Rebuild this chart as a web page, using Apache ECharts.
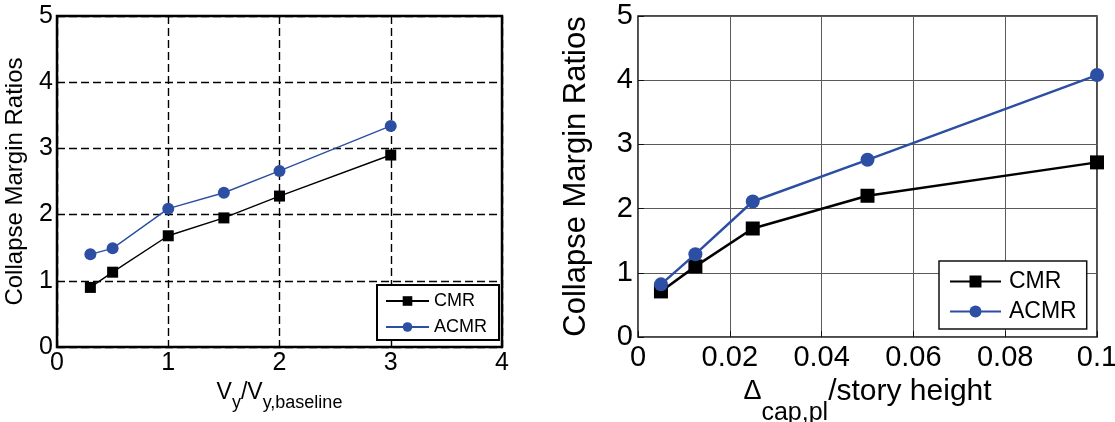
<!DOCTYPE html>
<html>
<head>
<meta charset="utf-8">
<script src="https://cdn.jsdelivr.net/npm/echarts@6/dist/echarts.min.js"></script>
<style>
  html, body { margin: 0; padding: 0; background: #fff; }
  #chart { width: 1115px; height: 422px; }
</style>
</head>
<body>
<div id="chart"></div>
<script>
// Left panel: collapse margin ratios vs. normalized yield strength
const strengthRatio = [0.3, 0.5, 1, 1.5, 2, 3];
const strengthCMR   = [0.9, 1.13, 1.68, 1.95, 2.28, 2.9];
const strengthACMR  = [1.4, 1.49, 2.09, 2.33, 2.66, 3.34];

// Right panel: collapse margin ratios vs. plastic rotation capacity
const capacityRatio = [0.005, 0.0125, 0.025, 0.05, 0.1];
const capacityCMR   = [0.71, 1.1, 1.69, 2.2, 2.72];
const capacityACMR  = [0.82, 1.29, 2.11, 2.76, 4.08];

const seriesNames = ['CMR', 'ACMR'];
const yTicks = [0, 1, 2, 3, 4, 5];

const FONT = "'Liberation Sans', Arial, Helvetica, sans-serif";
const BLACK = '#000000';
const BLUE = '#2c4fa3';

const pairs = (xs, ys) => xs.map((x, i) => [x, ys[i]]);

const chart = echarts.init(document.getElementById('chart'), null, { renderer: 'canvas' });

// Subscripts: main glyphs get bottom padding, subscript glyphs get top padding,
// which pushes the subscript below the main baseline.
const option = {
  backgroundColor: '#ffffff',
  animation: false,
  textStyle: { fontFamily: FONT, color: BLACK },
  grid: [
    { left: 57, right: 613, top: 16, bottom: 75, show: true, borderColor: BLACK, borderWidth: 2.5,
      backgroundColor: 'transparent', containLabel: false, outerBoundsMode: 'none' },
    { left: 638, right: 18, top: 16, bottom: 85, show: true, borderColor: '#111', borderWidth: 1.5,
      backgroundColor: 'transparent', containLabel: false, outerBoundsMode: 'none' }
  ],
  xAxis: [
    {
      gridIndex: 0, type: 'value', min: 0, max: 4, interval: 1,
      axisLine: { show: false },
      axisTick: { show: true, inside: true, length: 5, lineStyle: { color: BLACK } },
      axisLabel: { fontFamily: FONT, fontSize: 25, color: BLACK, margin: 4 },
      splitLine: { show: true, lineStyle: { color: BLACK, width: 1.4, type: [8, 4] } },
      name: '{m|V}{s|y}{m|/V}{s|y,baseline}',
      nameLocation: 'middle', nameGap: 30,
      nameTextStyle: {
        rich: {
          m: { fontFamily: FONT, fontSize: 23, color: BLACK, lineHeight: 23, padding: [0, 0, 11, 0] },
          s: { fontFamily: FONT, fontSize: 18, color: BLACK, lineHeight: 18, padding: [11, 0, 0, 0] }
        }
      }
    },
    {
      gridIndex: 1, type: 'value', min: 0, max: 0.1, interval: 0.02,
      axisLine: { show: false },
      axisTick: { show: true, inside: true, length: 6, lineStyle: { color: '#111' } },
      axisLabel: { fontFamily: FONT, fontSize: 29, color: BLACK, margin: 6 },
      splitLine: { show: true, lineStyle: { color: '#5a5a5a', width: 1 } },
      name: '{d|\u0394}{s|cap,pl}{m|/story height}',
      nameLocation: 'middle', nameGap: 32,
      nameTextStyle: {
        rich: {
          d: { fontFamily: FONT, fontSize: 27, color: BLACK, lineHeight: 30, padding: [0, 0, 21, 0] },
          m: { fontFamily: FONT, fontSize: 30, color: BLACK, lineHeight: 30, padding: [0, 0, 21, 0] },
          s: { fontFamily: FONT, fontSize: 25, color: BLACK, lineHeight: 25, padding: [21, 0, 0, 0] }
        }
      }
    }
  ],
  yAxis: [
    {
      gridIndex: 0, type: 'value', min: yTicks[0], max: yTicks[yTicks.length - 1], interval: 1,
      axisLine: { show: false },
      axisTick: { show: true, inside: true, length: 5, lineStyle: { color: BLACK } },
      axisLabel: { fontFamily: FONT, fontSize: 25, color: BLACK, margin: 4 },
      splitLine: { show: true, lineStyle: { color: BLACK, width: 1.4, type: [8, 4] } },
      name: 'Collapse Margin Ratios',
      nameLocation: 'middle', nameGap: 30, nameRotate: 90,
      nameTextStyle: { fontFamily: FONT, fontSize: 24, color: BLACK }
    },
    {
      gridIndex: 1, type: 'value', min: yTicks[0], max: yTicks[yTicks.length - 1], interval: 1,
      axisLine: { show: false },
      axisTick: { show: true, inside: true, length: 6, lineStyle: { color: '#111' } },
      axisLabel: { fontFamily: FONT, fontSize: 29, color: BLACK, margin: 5 },
      splitLine: { show: true, lineStyle: { color: '#5a5a5a', width: 1 } },
      name: 'Collapse Margin Ratios',
      nameLocation: 'middle', nameGap: 46, nameRotate: 90,
      nameTextStyle: { fontFamily: FONT, fontSize: 31, color: BLACK }
    }
  ],
  legend: [
    {
      data: seriesNames.map(n => ({ name: n })),
      orient: 'vertical', left: 377, top: 285,
      backgroundColor: '#fff', borderColor: BLACK, borderWidth: 2, borderRadius: 0,
      padding: [7, 12, 4, 8], itemWidth: 43, itemHeight: 12, itemGap: 8,
      textStyle: { fontFamily: FONT, fontSize: 18, color: BLACK },
      selectedMode: false,
      formatter: n => n
    },
    {
      data: seriesNames.map(n => ({ name: n + ' ' })),
      orient: 'vertical', left: 939, top: 261,
      backgroundColor: '#fff', borderColor: '#111', borderWidth: 1.5, borderRadius: 0,
      padding: [9, 10, 6, 10], itemWidth: 51, itemHeight: 15, itemGap: 7,
      textStyle: { fontFamily: FONT, fontSize: 23, color: BLACK, padding: [0, 0, 0, 3] },
      selectedMode: false,
      formatter: n => n.trim()
    }
  ],
  series: [
    {
      name: seriesNames[0], type: 'line', xAxisIndex: 0, yAxisIndex: 0,
      data: pairs(strengthRatio, strengthCMR),
      symbol: 'rect', symbolSize: 11,
      lineStyle: { color: BLACK, width: 1.4 }, itemStyle: { color: BLACK },
      z: 3
    },
    {
      name: seriesNames[1], type: 'line', xAxisIndex: 0, yAxisIndex: 0,
      data: pairs(strengthRatio, strengthACMR),
      symbol: 'circle', symbolSize: 12,
      lineStyle: { color: BLUE, width: 1.4 }, itemStyle: { color: BLUE },
      z: 4
    },
    {
      name: seriesNames[0] + ' ', type: 'line', xAxisIndex: 1, yAxisIndex: 1,
      data: pairs(capacityRatio, capacityCMR),
      symbol: 'rect', symbolSize: 14,
      lineStyle: { color: BLACK, width: 2.5 }, itemStyle: { color: BLACK },
      z: 3
    },
    {
      name: seriesNames[1] + ' ', type: 'line', xAxisIndex: 1, yAxisIndex: 1,
      data: pairs(capacityRatio, capacityACMR),
      symbol: 'circle', symbolSize: 14,
      lineStyle: { color: BLUE, width: 2.5 }, itemStyle: { color: BLUE },
      z: 4
    }
  ]
};

chart.setOption(option);
</script>
</body>
</html>
